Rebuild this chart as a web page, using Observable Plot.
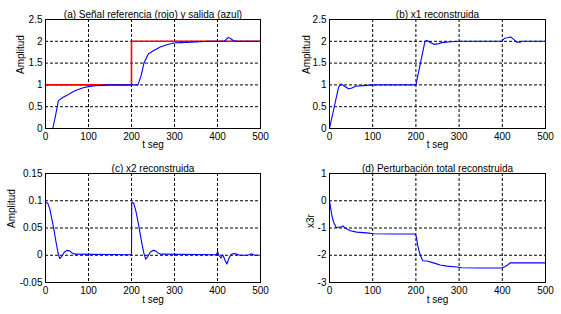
<!DOCTYPE html>
<html><head><meta charset="utf-8">
<script src="https://cdn.jsdelivr.net/npm/d3@7"></script>
<script src="https://cdn.jsdelivr.net/npm/@observablehq/plot@0.6"></script>
<style>
body{margin:0;background:#fff;}
#wrap{position:relative;width:561px;height:314px;background:#fff;overflow:hidden;}
#wrap svg{position:absolute;}
</style></head><body><div id="wrap"></div>
<script>
// ---- data ----
const xTicks = [0, 100, 200, 300, 400, 500];

// (a) reference (red) and output (blue)
const refT = [0, 200, 200, 500];
const refV = [1, 1, 2, 2];
const tA = [0,17,24,30,40,50,60,70,81,90,100,115,130,150,200,215,222,229,239,252,267,282,298,313,340,360,380,400,415,420,425,431,438,445,500];
const outA = [0,0,0.33,0.64,0.71,0.76,0.82,0.87,0.91,0.94,0.96,0.98,0.99,1.0,1.0,1.0,1.2,1.5,1.71,1.79,1.87,1.92,1.96,1.97,1.98,1.99,2.0,2.0,2.0,2.04,2.09,2.06,2.01,2.0,2.0];

// (b) x1 reconstruida
const tB = [0,21,27,33,44,52,60,86,100,200,221,226,232,242,250,260,280,300,399,405,412,419,426,433,441,445,500];
const x1 = [0,0.95,1.02,0.98,0.91,0.93,0.97,0.99,1.0,1.0,2.0,2.02,1.98,1.93,1.94,1.97,1.99,2.0,2.0,2.07,2.08,2.1,2.05,1.98,1.98,2.0,2.0];

// (c) x2 reconstruida
const tC = [0,5,10,15,20,25,29,33,38,44,50,56,62,68,200,200.5,205,210,215,220,225,229,233,238,244,250,256,262,268,398,400,403,408,412,415,418,422,426,431,437,445,452,470,476,482,486,500];
const x2 = [0.097,0.096,0.085,0.066,0.045,0.022,0.005,-0.006,-0.002,0.006,0.009,0.008,0.004,0.002,0.001,0.097,0.096,0.082,0.062,0.040,0.018,0.003,-0.007,-0.002,0.006,0.009,0.008,0.004,0.002,0.001,0.007,0.000,-0.005,0.001,-0.004,-0.010,-0.016,-0.007,0.001,0.003,0.002,0.000,0.000,0.002,0.002,0.000,0.000];

// (d) Perturbación total reconstruida
const tD = [0,5.5,9.3,13,15.5,20,28.6,31,36,48,63,86,102,150,198,201,204,208.5,213,216,225.5,241,256,272,295,306,349,399,407,414,418,450,500];
const x3r = [0,-0.54,-0.78,-0.9,-0.98,-0.97,-0.96,-0.92,-1.0,-1.1,-1.15,-1.18,-1.21,-1.22,-1.22,-1.32,-1.62,-1.92,-2.1,-2.2,-2.21,-2.28,-2.36,-2.4,-2.43,-2.46,-2.47,-2.47,-2.41,-2.34,-2.28,-2.28,-2.28];

const yTicksA = [0, 0.5, 1, 1.5, 2, 2.5];
const yTicksC = [-0.05, 0, 0.05, 0.1, 0.15];
const yTicksD = [-3, -2, -1, 0, 1];

const titles = ["(a) Señal referencia (rojo) y salida (azul)", "(b) x1 reconstruida", "(c) x2 reconstruida", "(d) Perturbación total reconstruida"];
const yLabels = ["Amplitud", "Amplitud", "Amplitud", "x3r"];
const xLabel = "t seg";

// ---- drawing ----
const font = "'Liberation Sans', Arial, sans-serif";
const wrap = document.getElementById("wrap");

function zip(t, v) { return t.map((d, i) => ({t: d, v: v[i]})); }

function panel(o) {
  const marks = [
    Plot.gridX(xTicks.slice(1, -1), {stroke: "black", strokeOpacity: 1, strokeDasharray: "3,2"}),
    Plot.gridY(o.yTicks.slice(1, -1), {stroke: "black", strokeOpacity: 1, strokeDasharray: "3,2"}),
    ...o.lines.map(l => Plot.line(l.data, {x: "t", y: "v", stroke: l.color, strokeWidth: l.width})),
    Plot.frame({stroke: "black"}),
    Plot.axisX(xTicks, {tickSize: 0, tickPadding: 4, label: null, tickFormat: d => String(d), fill: "black"}),
    Plot.axisY(o.yTicks, {tickSize: 0, tickPadding: 3, label: null, tickFormat: d => String(d), fill: "black"}),
    Plot.text([o.title], {frameAnchor: "top", dy: -9, fill: "black"}),
    Plot.text([xLabel], {frameAnchor: "bottom", dy: o.xlDy, fill: "black"}),
    Plot.text([o.ylabel], {frameAnchor: "left", dx: o.ylDx, rotate: -90, fill: "black"})
  ];
  const svg = Plot.plot({
    width: o.width, height: o.height,
    marginLeft: o.ml, marginRight: o.mr, marginTop: o.mt, marginBottom: o.mb,
    x: {domain: [0, 500]},
    y: {domain: [o.yTicks[0], o.yTicks[o.yTicks.length - 1]]},
    style: {fontFamily: font, fontSize: "10px", background: "transparent", color: "black"},
    marks
  });
  svg.style.left = o.left + "px";
  svg.style.top = o.top + "px";
  wrap.appendChild(svg);
}

panel({left: 0, top: 0, width: 280, height: 157, ml: 45, mr: 20, mt: 19, mb: 29,
  yTicks: yTicksA, title: titles[0], ylabel: yLabels[0], ylDx: -25, xlDy: 19,
  lines: [{data: zip(refT, refV), color: "#ff0000", width: 1.6}, {data: zip(tA, outA), color: "#0000ff", width: 1.1}]});
panel({left: 280, top: 0, width: 281, height: 157, ml: 49, mr: 16, mt: 19, mb: 29,
  yTicks: yTicksA, title: titles[1], ylabel: yLabels[1], ylDx: -23, xlDy: 19,
  lines: [{data: zip(tB, x1), color: "#0000ff", width: 1.1}]});
panel({left: 0, top: 157, width: 280, height: 157, ml: 45, mr: 20, mt: 16, mb: 32,
  yTicks: yTicksC, title: titles[2], ylabel: yLabels[2], ylDx: -34, xlDy: 20,
  lines: [{data: zip(tC, x2), color: "#0000ff", width: 1.1}]});
panel({left: 280, top: 157, width: 281, height: 157, ml: 49, mr: 16, mt: 16, mb: 32,
  yTicks: yTicksD, title: titles[3], ylabel: yLabels[3], ylDx: -19, xlDy: 20,
  lines: [{data: zip(tD, x3r), color: "#0000ff", width: 1.1}]});
</script>
</body></html>
